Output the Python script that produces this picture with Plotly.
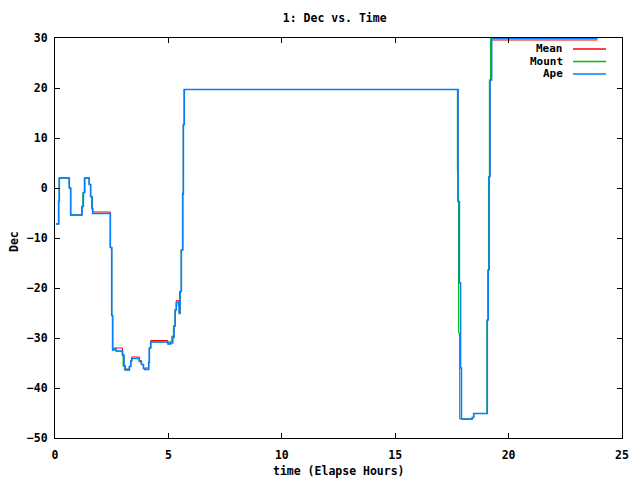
import plotly.graph_objects as go

# ---- data (hours, degrees) ----
series_names = ["Mean", "Mount", "Ape"]
series_colors = ["#ff0000", "#00c000", "#0080ff"]

ape_t = [0.05, 0.16, 0.19, 0.63, 0.69, 1.19, 1.25, 1.31, 1.51, 1.57, 1.63, 1.66,
         2.44, 2.50, 2.54, 2.59, 2.69, 2.98, 3.04, 3.10, 3.28, 3.34, 3.38, 3.72,
         3.81, 3.90, 3.96, 4.13, 4.16, 4.22, 4.98, 5.10, 5.19, 5.25, 5.30, 5.35,
         5.45, 5.48, 5.51, 5.57, 5.63, 5.66, 5.70, 17.77, 17.83, 17.88, 17.92,
         18.40, 18.46, 19.06, 19.10, 19.14, 19.18, 19.25, 23.92]
ape_v = [-7.2, -2.7, 2.0, 0.0, -5.4, -3.7, -0.9, 2.0, 0.7, -1.7, -4.1, -5.1,
         -11.9, -25.5, -32.4, -32.2, -32.6, -33.4, -35.6, -36.4, -35.7, -34.6, -34.1, -34.7,
         -35.3, -36.1, -36.3, -34.9, -32.0, -30.8, -31.2, -31.0, -29.9, -27.6, -24.4, -22.9,
         -23.5, -25.1, -20.7, -12.4, -1.2, 12.7, 19.7, -2.7, -19.0, -36.0, -46.2,
         -45.9, -45.1, -26.4, -16.4, 2.3, 21.6, 29.9, 29.9]

mean_t = [0.05, 0.16, 0.19, 0.63, 0.69, 1.19, 1.25, 1.31, 1.51, 1.57, 1.63, 1.66,
          2.44, 2.50, 2.54, 2.59, 2.98, 3.04, 3.10, 3.28, 3.34, 3.38, 3.72,
          3.81, 3.90, 3.96, 4.13, 4.16, 4.22, 4.98, 5.10, 5.19, 5.25, 5.30, 5.35,
          5.45, 5.48, 5.51, 5.57, 5.63, 5.66, 5.70, 17.77, 17.83, 17.88, 17.92,
          18.40, 18.46, 19.06, 19.10, 19.14, 19.18, 19.25, 23.92]
mean_v = [-7.2, -2.7, 2.0, 0.0, -5.4, -3.7, -0.9, 2.0, 0.7, -1.7, -4.1, -4.8,
          -11.9, -25.5, -32.4, -32.0, -33.4, -35.6, -36.2, -35.7, -34.6, -33.8, -34.5,
          -35.3, -36.1, -36.0, -34.9, -32.0, -30.5, -31.0, -30.8, -29.7, -27.6, -24.4, -22.5,
          -23.3, -25.1, -20.7, -12.4, -1.0, 12.7, 19.7, -2.7, -19.0, -36.0, -46.2,
          -45.9, -45.1, -26.4, -16.4, 2.3, 21.6, 29.6, 29.6]

mount_t = [0.05, 0.16, 0.19, 0.63, 0.69, 1.17, 1.23, 1.29, 1.51, 1.57, 1.63, 1.66,
           2.44, 2.50, 2.54, 2.59, 2.69, 2.96, 3.00, 3.06, 3.28, 3.34, 3.38, 3.72,
           3.81, 3.90, 3.96, 4.13, 4.16, 4.22, 4.98, 5.08, 5.15, 5.22, 5.30, 5.35,
           5.45, 5.48, 5.51, 5.57, 5.63, 5.66, 5.70, 17.74, 17.79, 17.84,
           18.40, 18.46, 19.05, 19.09, 19.12, 19.15, 19.20, 23.92]
mount_v = [-7.2, -2.7, 2.0, 0.0, -5.4, -3.7, -0.9, 2.0, 0.7, -1.7, -4.1, -5.1,
           -11.9, -25.5, -32.4, -32.2, -32.6, -33.4, -35.6, -36.4, -35.7, -34.6, -34.1, -34.7,
           -35.3, -36.1, -36.3, -34.9, -32.0, -30.8, -31.2, -30.6, -29.6, -27.6, -24.4, -22.9,
           -23.5, -25.1, -20.7, -12.4, -1.2, 12.7, 19.7, 3.3, -29.0, -46.2,
           -45.9, -45.1, -26.4, -16.4, 2.3, 21.6, 30.0, 30.0]

x_ticks = [0, 5, 10, 15, 20, 25]
y_ticks = [-50, -40, -30, -20, -10, 0, 10, 20, 30]

series_t = [mean_t, mount_t, ape_t]
series_v = [mean_v, mount_v, ape_v]
series_w = [1.0, 1.0, 1.6]

FONT = "DejaVu Sans Mono"
fig = go.Figure()
for name, col, w, t, v in zip(series_names, series_colors, series_w, series_t, series_v):
    fig.add_trace(go.Scatter(x=t, y=v, name=name, mode="lines", line_shape="hv",
                             line=dict(color=col, width=w), showlegend=False))

axis_common = dict(showline=True, linecolor="black", linewidth=1, mirror="ticks",
                   ticks="inside", ticklen=5, tickcolor="black", showgrid=False,
                   zeroline=False, tickfont=dict(family=FONT, size=11.5, color="black", weight="bold"))
fig.update_xaxes(range=[0, 25], tickvals=x_ticks, ticklabelstandoff=6, **axis_common)
fig.update_yaxes(range=[-50, 30], tickvals=y_ticks, ticklabelstandoff=4, **axis_common)

# manual gnuplot-style legend: right-aligned text then line sample
legend_y = [0.9725, 0.9412, 0.9100]
for name, col, yy in zip(series_names, series_colors, legend_y):
    fig.add_annotation(x=0.9, y=yy, xref="paper", yref="paper", text=name, showarrow=False,
                       xanchor="right", yanchor="middle",
                       font=dict(family=FONT, size=11, color="black", weight="bold"))
    fig.add_shape(type="line", xref="paper", yref="paper", x0=0.9136, x1=0.9718, y0=yy, y1=yy,
                  line=dict(color=col, width=1.3))

fig.add_annotation(x=0.5, y=-0.0825, xref="paper", yref="paper", text="time (Elapse Hours)",
                   showarrow=False, xanchor="center", yanchor="middle",
                   font=dict(family=FONT, size=11.5, color="black", weight="bold"))
fig.add_annotation(x=-0.0723, y=0.49, xref="paper", yref="paper", text="Dec", textangle=-90,
                   showarrow=False, xanchor="center", yanchor="middle",
                   font=dict(family=FONT, size=11.5, color="black", weight="bold"))

fig.update_layout(
    width=640, height=480,
    margin=dict(l=55, r=18, t=38, b=42),
    paper_bgcolor="white", plot_bgcolor="white",
    title=dict(text="1: Dec vs. Time", x=0.523, xanchor="center", y=1 - 18 / 480, yanchor="middle",
               font=dict(family=FONT, size=11.5, color="black", weight="bold")),
)

fig.write_html("out.html")
